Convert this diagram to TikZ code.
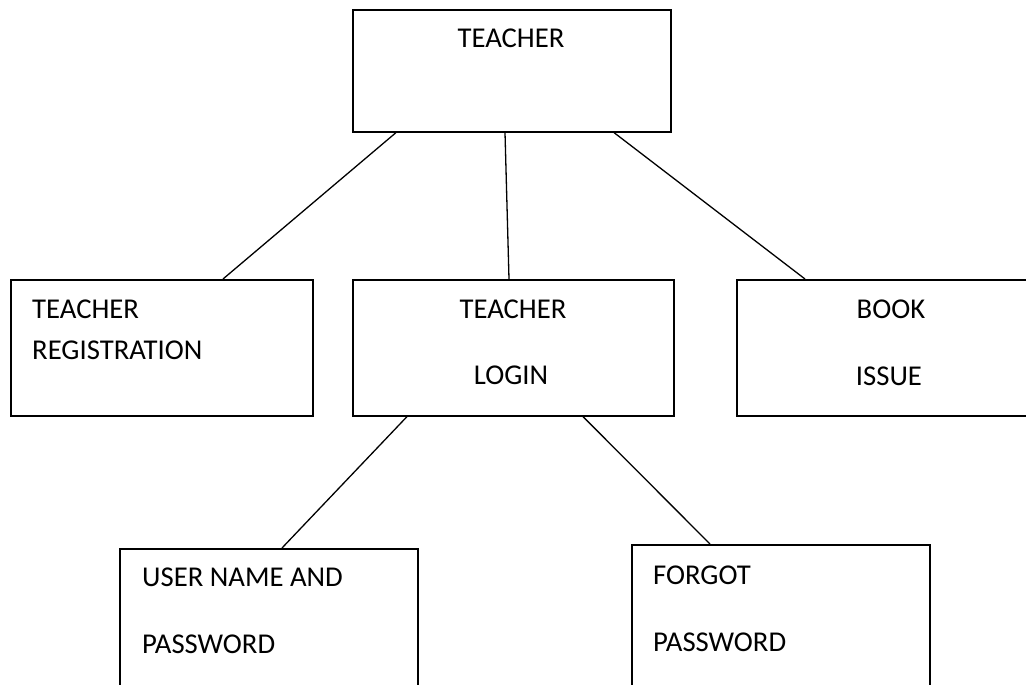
\documentclass[tikz,border=0pt]{standalone}
\usepackage{fontspec}
\setmainfont{Carlito}
\begin{document}
\begin{tikzpicture}[x=1pt,y=-1pt,
  box/.style={draw=black,line width=1.6pt,rectangle,inner sep=0pt,anchor=north west},
  lbl/.style={inner sep=0pt,font=\fontsize{28.7}{34}\selectfont},
  link/.style={draw=black,line width=1.3pt}]
  % page frame
  \fill[white] (0,0) rectangle (1026,685);
  \useasboundingbox (0,0) rectangle (1026,685);
  \clip (0,0) rectangle (1026,685);

  % boxes
  \node[box,minimum width=318pt,minimum height=122pt] (t) at (352,9) {};
  \node[box,minimum width=302pt,minimum height=136pt] (reg) at (10,279) {};
  \node[box,minimum width=321pt,minimum height=136pt] (login) at (352,279) {};
  \node[box,minimum width=310pt,minimum height=136pt] (book) at (736,279) {};
  \node[box,minimum width=298pt,minimum height=160pt] (user) at (119,548) {};
  \node[box,minimum width=298pt,minimum height=160pt] (forgot) at (631,544) {};

  % labels
  \node[lbl,anchor=base] (tA) at (511,48) {TEACHER};
  \node[lbl,anchor=base west] (regA) at (32,318) {TEACHER};
  \node[lbl,anchor=base west] (regB) at (32,359) {REGISTRATION};
  \node[lbl,anchor=base] (loginA) at (513,318) {TEACHER};
  \node[lbl,anchor=base] (loginB) at (511,384) {LOGIN};
  \node[lbl,anchor=base] (bookA) at (891,318) {BOOK};
  \node[lbl,anchor=base] (bookB) at (889,385) {ISSUE};
  \node[lbl,anchor=base west] (userA) at (142,586) {USER NAME AND};
  \node[lbl,anchor=base west] (userB) at (142,653) {PASSWORD};
  \node[lbl,anchor=base west] (forgotA) at (653,584) {FORGOT};
  \node[lbl,anchor=base west] (forgotB) at (653,651) {PASSWORD};

  % connectors
  \draw[link] ([xshift=44pt]t.south west) -- ([xshift=213pt]reg.north west);
  \draw[link] ([xshift=153pt]t.south west) -- ([xshift=157pt]login.north west);
  \draw[link] ([xshift=262pt]t.south west) -- ([xshift=69pt]book.north west);
  \draw[link] ([xshift=55pt]login.south west) -- ([xshift=163pt]user.north west);
  \draw[link] ([xshift=231pt]login.south west) -- ([xshift=79pt]forgot.north west);
\end{tikzpicture}
\end{document}
